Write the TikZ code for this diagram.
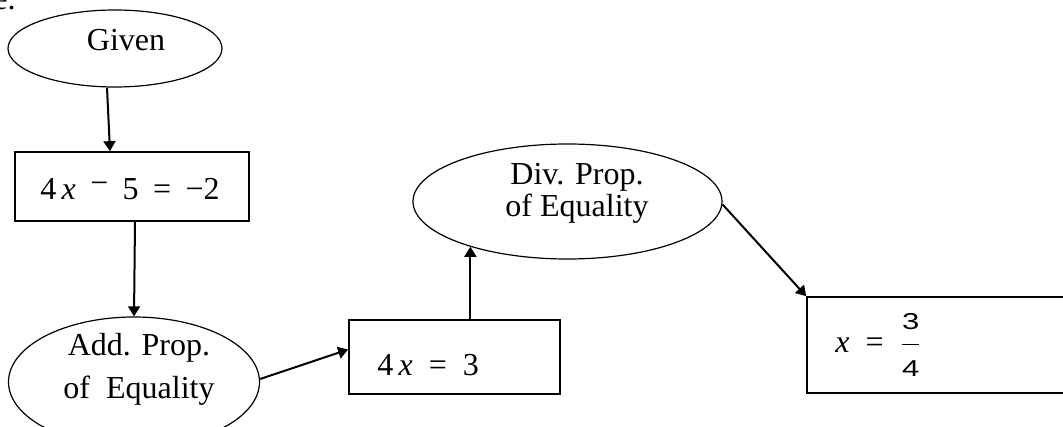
\documentclass[tikz,border=0pt]{standalone}
\usepackage{amsmath}
\usepackage{graphicx}
\usepackage{fontspec}
\setmainfont{Liberation Serif}
\setsansfont{Liberation Sans}
\usetikzlibrary{shapes.geometric,arrows.meta}
\newcommand{\fracdigit}[1]{\text{\fontsize{11.5}{11.5}\selectfont\sffamily\scalebox{1.35}[1]{#1}}}
\begin{document}
\begin{tikzpicture}[x=0.5pt, y=-0.5pt, >={Triangle[length=5pt,width=6pt]},
	every node/.style={font=\fontsize{16}{16}\selectfont, inner sep=0pt},
	oval/.style={ellipse, draw, line width=0.6pt},
	eqbox/.style={rectangle, draw, line width=0.85pt},
	flow/.style={->, line width=1pt}]
	\useasboundingbox (0,0) rectangle (1063,427);
	
	% cut-off text at the top left
	\node[anchor=base east] (stub) at (16,10) {e.};
	
	% Given
	\node[oval, minimum width=107pt, minimum height=38.5pt] (given) at (115,48.5) {};
	\node (giventxt) at (126,40) {Given};
	
	% 4x - 5 = -2
	\node[eqbox, minimum width=117pt, minimum height=34.5pt] (eq1) at (132,186.5) {};
	\node (eq1txt) at (130,189) {4\,\textit{x}\hspace{0.45em}\raisebox{3pt}{−}\hspace{0.45em}5\hspace{0.45em}=\hspace{0.45em}−2};
	
	% Add. Prop. of Equality
	\node[oval, minimum width=125.5pt, minimum height=65pt] (add) at (134,382) {};
	\node[align=center] (addtxt) at (139,369) {Add. Prop.\\[5.5pt]of~~Equality};
	
	% 4x = 3
	\node[eqbox, minimum width=105.5pt, minimum height=37pt] (eq2) at (454.5,357) {};
	\node[anchor=west] (eq2txt) at (377,365) {4\,\textit{x}\hspace{0.5em}=\hspace{0.5em}3};
	
	% Div. Prop. of Equality
	\node[oval, minimum width=154.5pt, minimum height=57.5pt] (div) at (567.5,201.5) {};
	\node[align=center] (divtxt) at (577,193) {Div. Prop.\\of Equality};
	
	% x = 3/4
	\node[eqbox, minimum width=136.5pt, minimum height=48pt] (eq3) at (943.5,345) {};
	\node[anchor=west] (eq3txt) at (835,345) {\textit{x}\hspace{0.5em}=\hspace{0.5em}$\dfrac{\fracdigit{3}}{\fracdigit{4}}$};
	
	% arrows
	\draw[flow] ([xshift=-4pt]given.south) -- ([xshift=-11pt]eq1.north);
	\draw[flow] ([xshift=1.5pt]eq1.south) -- (add.north);
	\draw[flow] ([yshift=1.5pt]add.east) -- ([yshift=3.75pt]eq2.west);
	\draw[flow] (eq2.north -| div.205) -- (div.205);
	\draw[flow] ([yshift=-1.5pt]div.east) -- (eq3.north west);
\end{tikzpicture}
\end{document}
